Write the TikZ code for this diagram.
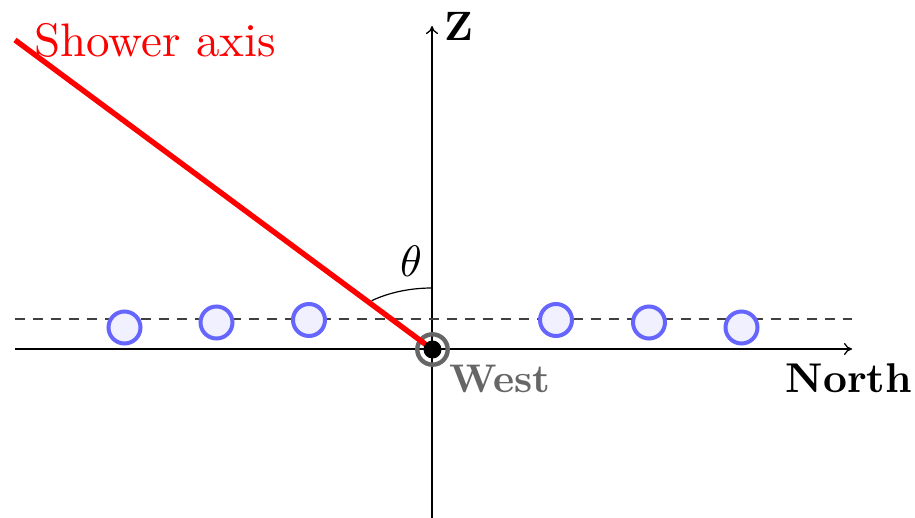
\documentclass[tikz,border=0pt]{standalone}
\usepackage{tikz}
\usepackage{graphicx}
\usetikzlibrary{arrows.meta}
\begin{document}
\begin{tikzpicture}[x=0.5pt,y=-0.5pt,
  axis/.style={line width=0.65pt,-{To[length=4pt,width=6pt]}},
  station/.style={circle,draw=blue!60,fill=blue!6,line width=2pt,minimum size=16pt,inner sep=0pt},
  lbl/.style={inner sep=0pt}]
\useasboundingbox (0,0) rectangle (915,518);
\coordinate (O) at (432.5,349.5);
\coordinate (xl) at (15,349);
\coordinate (xr) at (852,349);
\coordinate (zb) at (432,518);
\coordinate (zt) at (432,26);
\coordinate (dl) at (15,319);
\coordinate (dr) at (852,319);
\coordinate (S) at (15,40);
\coordinate (at) at (432,288);
\draw[axis] (xl) -- (xr);
\draw[axis] (zb) -- (zt);
\draw[line width=0.65pt,dash pattern=on 5pt off 4pt,black!75] (dl) -- (dr);
\node[station] (s1) at (124.5,327.5) {};
\node[station] (s2) at (216.5,322.5) {};
\node[station] (s3) at (309,320) {};
\node[station] (s4) at (556,320) {};
\node[station] (s5) at (649,322.5) {};
\node[station] (s6) at (741.5,327.5) {};
\draw[line width=0.6pt] (at) arc[start angle=90,end angle=127.7,x radius=49.4pt,y radius=30.5pt];
\node[circle,draw=black!60,line width=2.2pt,minimum size=15.2pt,inner sep=0pt] (ring) at (O) {};
\draw[red,line width=2.7pt] (S) -- (O);
\node[circle,fill=black,minimum size=9pt,inner sep=0pt] (dot) at (O) {};
\node[lbl,red] (sa) at (155,40) {\scalebox{2.35}{Shower axis}};
\node[lbl] (th) at (411,261) {\scalebox{2.2}{$\theta$}};
\node[lbl] (zl) at (459,26) {\scalebox{2.05}{\bfseries Z}};
\node[lbl,black!60] (wl) at (500,379) {\scalebox{2.0}{\bfseries West}};
\node[lbl] (nl) at (849,378.5) {\scalebox{2.08}{\bfseries North}};
\end{tikzpicture}
\end{document}
